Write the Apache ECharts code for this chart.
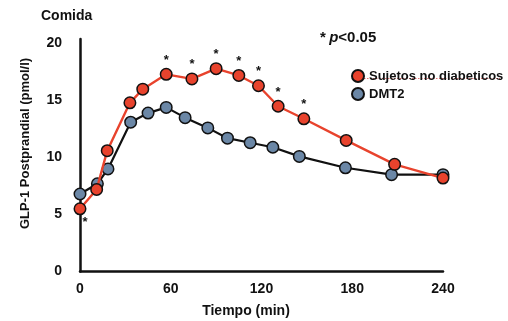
<!DOCTYPE html>
<html>
<head>
<meta charset="utf-8">
<script src="https://cdn.jsdelivr.net/npm/echarts@6/dist/echarts.min.js"></script>
<style>
  html, body { margin: 0; padding: 0; background: #fff; }
  #chart { width: 508px; height: 321px; }
</style>
</head>
<body>
<div id="chart"></div>
<script>
// Postprandial GLP-1 (pmol/l) after a meal, sampled over 240 minutes
const timeNoDiab = [0, 11, 18, 33, 41.5, 57, 74, 90, 105, 118, 131, 148, 176, 208, 240];
const glpNoDiab  = [5.5, 7.2, 10.6, 14.8, 16.0, 17.3, 16.9, 17.8, 17.2, 16.3, 14.5, 13.4, 11.5, 9.4, 8.2];
const timeDMT2   = [0, 11.5, 18.5, 33.5, 45, 57, 69.5, 84.5, 97.5, 112.5, 127.5, 145, 175.5, 206, 240];
const glpDMT2    = [6.8, 7.7, 9.0, 13.1, 13.9, 14.4, 13.5, 12.6, 11.7, 11.3, 10.9, 10.1, 9.1, 8.5, 8.5];
// significance marks on the non-diabetic curve: 'up' above the point, 'down' below it
const sigNoDiab  = ['down', '', '', '', '', 'up', 'up', 'up', 'up', 'up', 'up', 'up', '', '', ''];
const xTicks = [0, 60, 120, 180, 240];
const yTicks = [0, 5, 10, 15, 20];

const FONT = '"Liberation Sans", Arial, Helvetica, sans-serif';
const RED = '#e8432d';
const BLUE = '#6b87a6';

const redData = timeNoDiab.map((t, i) => {
  const item = { value: [t, glpNoDiab[i]] };
  if (sigNoDiab[i] === 'up') {
    item.label = { show: true, position: 'top', distance: 1 };
  } else if (sigNoDiab[i] === 'down') {
    item.label = { show: true, position: 'bottom', distance: 1, offset: [5, 0] };
  }
  return item;
});
const blueData = timeDMT2.map((t, i) => [t, glpDMT2[i]]);

const chart = echarts.init(document.getElementById('chart'), null, { renderer: 'canvas' });
chart.setOption({
  animation: false,
  backgroundColor: '#fff',
  textStyle: { fontFamily: FONT },
  grid: { left: 80, right: 65, top: 39, bottom: 49.5, containLabel: false },
  legend: {
    orient: 'vertical',
    left: 346,
    top: 64,
    itemWidth: 12,
    itemHeight: 12,
    itemGap: 4,
    icon: 'circle',
    textStyle: { fontFamily: FONT, fontWeight: 'bold', fontSize: 13, color: '#111' },
    data: ['Sujetos no diabeticos', 'DMT2']
  },
  xAxis: {
    type: 'value',
    min: xTicks[0],
    max: xTicks[xTicks.length - 1],
    interval: 60,
    splitLine: { show: false },
    axisTick: { show: false },
    axisLine: { show: true, lineStyle: { color: '#111', width: 2.5 } },
    axisLabel: { fontFamily: FONT, fontWeight: 'bold', fontSize: 14, color: '#111', margin: 11 }
  },
  yAxis: {
    type: 'value',
    min: yTicks[0],
    max: 20.4,
    interval: 5,
    splitLine: { show: false },
    axisTick: { show: false },
    axisLine: { show: true, lineStyle: { color: '#111', width: 2.5 } },
    axisLabel: {
      fontFamily: FONT, fontWeight: 'bold', fontSize: 14, color: '#111', margin: 18,
      showMaxLabel: false,
      formatter: v => (yTicks.indexOf(v) >= 0 ? String(v) : '')
    }
  },
  series: [
    {
      name: 'DMT2',
      type: 'line',
      data: blueData,
      z: 2,
      symbol: 'circle',
      symbolSize: 11.5,
      lineStyle: { color: '#111', width: 2.2 },
      itemStyle: { color: BLUE, borderColor: '#111', borderWidth: 1.5 }
    },
    {
      name: 'Sujetos no diabeticos',
      type: 'line',
      data: redData,
      z: 3,
      symbol: 'circle',
      symbolSize: 11.5,
      lineStyle: { color: RED, width: 2.4 },
      itemStyle: { color: RED, borderColor: '#111', borderWidth: 1.5 },
      label: {
        show: false,
        formatter: '*',
        fontFamily: FONT, fontWeight: 'bold', fontSize: 13, color: '#111'
      }
    }
  ],
  graphic: [
    {
      type: 'text', left: 41, top: 9,
      style: { text: 'Comida', font: 'bold 14px ' + FONT, fill: '#111' }
    },
    {
      type: 'text', left: 320, top: 30,
      style: {
        text: '{s|*} {i|p}{s|<0.05}',
        rich: {
          s: { font: 'bold 15px ' + FONT, fill: '#111' },
          i: { font: 'italic bold 15px ' + FONT, fill: '#111' }
        }
      }
    },
    {
      type: 'text',
      x: 25, y: 143.5,
      rotation: Math.PI / 2,
      style: {
        text: 'GLP-1 Postprandial (pmol/l)',
        font: 'bold 13px ' + FONT, fill: '#111',
        align: 'center', verticalAlign: 'middle'
      }
    },
    {
      type: 'text',
      x: 246, y: 311,
      style: {
        text: 'Tiempo (min)',
        font: 'bold 14px ' + FONT, fill: '#111',
        align: 'center', verticalAlign: 'middle'
      }
    },
    {
      // spell-check squiggle under the first legend entry
      type: 'line',
      shape: { x1: 364, y1: 78.5, x2: 500, y2: 78.5 },
      style: { stroke: '#e05050', lineWidth: 1, lineDash: [1.5, 1.5], opacity: 0.8 }
    }
  ]
});
</script>
</body>
</html>
